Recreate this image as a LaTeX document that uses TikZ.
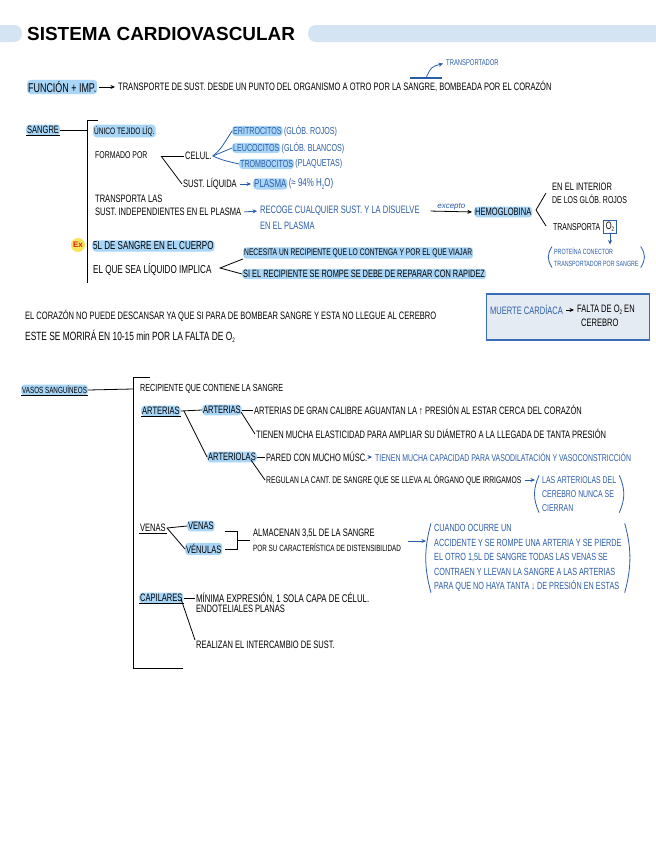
\documentclass[tikz,border=0pt]{standalone}
\usepackage{fontspec}
\setmainfont{Liberation Sans}
\newfontfamily\hand[FakeStretch=0.7]{Liberation Sans}
\usetikzlibrary{arrows.meta}
\definecolor{hlc}{HTML}{A9D5F7}
\definecolor{pillc}{HTML}{D5E4F3}
\definecolor{inkb}{HTML}{2A5CA8}
\definecolor{boxf}{HTML}{E5EBF2}
\definecolor{boxd}{HTML}{3A6DB4}
\definecolor{exy}{HTML}{F7E45A}
\definecolor{exr}{HTML}{D62020}
\newcommand{\sbs}[1]{\raisebox{-0.35ex}{\fontsize{6.5}{6.5}\selectfont #1}}
\newcommand{\hsz}[1]{\hand\fontsize{#1}{#1}\selectfont}
\begin{document}
\begin{tikzpicture}[x=1bp,y=-1bp,
 t/.style={anchor=west,inner sep=1pt,font=\hand\fontsize{10.8}{12}\selectfont,text=black,align=left},
 bl/.style={text=inkb},
 hl/.style={fill=hlc,rounded corners=3.5bp,inner ysep=1.5pt},
 ln/.style={line width=0.8pt,draw=black},
 bln/.style={line width=0.8pt,draw=inkb},
 arr/.style={-{Stealth[length=4.5bp,width=4bp]},line width=0.8pt,shorten >=2bp,shorten <=2bp},
 ul/.style={line width=0.8pt,draw=black},
]
\useasboundingbox (0,0) rectangle (656,848);
\fill[white] (0,0) rectangle (656,848);

% header
\fill[pillc,rounded corners=8bp] (-20,25) rectangle (22,42);
\fill[pillc,rounded corners=8bp] (308,25) rectangle (680,42);
\node[anchor=west,inner sep=0,font=\bfseries\fontsize{19}{20}\selectfont] (title) at (27,33.5) {SISTEMA CARDIOVASCULAR};

% line 1
\node[t,hl,font=\hsz{12.8}] (fun) at (27,87) {FUNCIÓN + IMP.};
\node[t] (transp) at (117,87) {TRANSPORTE DE SUST. DESDE UN PUNTO DEL ORGANISMO A OTRO POR LA SANGRE, BOMBEADA POR EL CORAZÓN};
\draw[arr] (fun) -- (transp);
\node[t,bl,font=\hsz{8.4}] (tpor) at (445,63) {TRANSPORTADOR};
\coordinate (sgA) at (410,78);
\coordinate (sgB) at (442,78);
\coordinate (sgM) at (426,78);
\draw[bln,line width=1.1pt] (sgA) -- (sgB);
\draw[bln,arr,inkb,shorten <=0pt] (sgM) .. controls (431,67) .. (tpor.west);

% sangre block
\node[t,hl] (sangre) at (26,130) {SANGRE};
\draw[ul] (sangre.south west) -- (sangre.south east);
\coordinate (sbt) at (87,120);
\coordinate (sbb) at (87,283);
\coordinate (sbm) at (87,130);
\draw[ln] (98,120) -- (sbt) -- (sbb);
\draw[ln] (sangre.east) -- (sbm);

\node[t,hl,font=\hsz{9.4}] (unico) at (93,131) {ÚNICO TEJIDO LÍQ.};
\node[t,font=\hsz{9.9}] (formado) at (94,155) {FORMADO POR};
\node[t] (celul) at (184,156) {CELUL.};
\node[t] (liq) at (182,184) {SUST. LÍQUIDA};
\coordinate (fj) at (161,156);
\draw[ln] (fj) -- (celul.west);
\draw[ln] (fj) -- (liq.west);

\node[t,bl,hl,font=\hsz{10.2}] (eri) at (232,131) {ERITROCITOS};
\node[t,bl,font=\hsz{10.2}] (eri2) at (eri.east) {(GLÓB. ROJOS)};
\node[t,bl,hl,font=\hsz{10.2}] (leu) at (232,148) {LEUCOCITOS};
\node[t,bl,font=\hsz{10.2}] (leu2) at (leu.east) {(GLÓB. BLANCOS)};
\node[t,bl,hl,font=\hsz{10.2}] (trom) at (239,164) {TROMBOCITOS};
\node[t,bl,font=\hsz{10.2}] (trom2) at (trom.east) {(PLAQUETAS)};
\draw[bln] (celul.east) .. controls (220,150) .. (eri.west);
\draw[bln] (celul.east) -- (leu.west);
\draw[bln] (celul.east) .. controls (222,160) .. (trom.west);

\node[t,bl,hl,font=\hsz{11.4}] (plasma) at (253,184) {PLASMA};
\node[t,bl,font=\hsz{11.4}] (plasma2) at (plasma.east) {(≈ 94\% H\sbs{2}O)};
\draw[arr,inkb] (liq.east) -- (plasma.west);

\node[t] (tr1) at (94,199) {TRANSPORTA LAS};
\node[t] (tr2) at (94,212) {SUST. INDEPENDIENTES EN EL PLASMA};
\node[t,bl] (rc1) at (259,211) {RECOGE CUALQUIER SUST. Y LA DISUELVE};
\node[t,bl] (rc2) at (259,226) {EN EL PLASMA};
\draw[arr,inkb] (tr2.east) -- (rc1.west);
\node[t,hl] (hemo) at (474,212) {HEMOGLOBINA};
\draw[arr] ([xshift=8bp]rc1.east) -- node[above=0pt,inner sep=1pt,font=\itshape\fontsize{8}{9}\selectfont,text=inkb] (exc) {excepto} (hemo.west);
\node[t] (int1) at (551,187) {EN EL INTERIOR};
\node[t,font=\hsz{10}] (int2) at (551,199) {DE LOS GLÓB. ROJOS};
\node[t,font=\hsz{10}] (tra) at (552,227) {TRANSPORTA};
\node[t,draw=inkb,line width=0.9pt,inner sep=2pt,anchor=west] (o2) at ([xshift=2bp]tra.east) {O\sbs{2}};
\coordinate (hk1) at (546,193);
\coordinate (hk0) at (536,210);
\coordinate (hk2) at (546,226);
\draw[ln] (hk1) -- (hk0) -- (hk2);
\node[t,bl,font=\hand\fontsize{7.6}{12}\selectfont] (prot) at (553,257) {PROTEÍNA CONECTOR\\TRANSPORTADOR POR SANGRE};
\draw[arr,inkb,shorten <=0pt] (o2.south) -- (o2.south |- prot.north);
\draw[bln] ([xshift=-1bp]prot.north west) .. controls +(-5,8) and +(-5,-8) .. ([xshift=-1bp]prot.south west);
\draw[bln] ([xshift=1bp]prot.north east) .. controls +(5,8) and +(5,-8) .. ([xshift=1bp]prot.south east);

\node[circle,fill=exy,inner sep=1pt,minimum size=14bp,text=exr,font=\bfseries\fontsize{8}{9}\selectfont] (ex) at (78,245) {Ex};
\node[t,hl,font=\hsz{11.5}] (cinco) at (92,246) {5L DE SANGRE EN EL CUERPO};
\node[t,font=\hsz{11.6}] (liqimp) at (92,270) {EL QUE SEA LÍQUIDO IMPLICA};
\node[t,hl,font=\hsz{9.6}] (nec) at (243,253) {NECESITA UN RECIPIENTE QUE LO CONTENGA Y POR EL QUE VIAJAR};
\node[t,hl,font=\hsz{10.6}] (rom) at (242,274) {SI EL RECIPIENTE SE ROMPE SE DEBE DE REPARAR CON RAPIDEZ};
\coordinate (lv) at (220,268);
\draw[ln] (nec.south west) -- (lv) -- (rom.west);

% corazon paragraph
\node[t] (cor1) at (24,316) {EL CORAZÓN NO PUEDE DESCANSAR YA QUE SI PARA DE BOMBEAR SANGRE Y ESTA NO LLEGUE AL CEREBRO};
\node[t,font=\hsz{12}] (cor2) at (24,336) {ESTE SE MORIRÁ EN 10-15 min POR LA FALTA DE O\sbs{2}};
\node[draw=boxd,fill=boxf,line width=1.1pt,minimum width=163bp,minimum height=46bp,inner sep=0] (mbox) at (568,317) {};
\node[t,bl] (mc) at (489,310) {MUERTE CARDÍACA};
\node[t] (fal) at (576,310) {FALTA DE O\sbs{2} EN};
\node[t] (cer) at (580,323) {CEREBRO};
\draw[arr] (mc.east) -- (fal.west);

% vasos block
\node[t,hl,font=\hsz{9}] (vasos) at (21,390) {VASOS SANGUÍNEOS};
\draw[ul] (vasos.south west) -- (vasos.south east);
\coordinate (vbt) at (133,377);
\coordinate (vbb) at (133,668);
\coordinate (vbm) at (133,389);
\draw[ln] (150,377) -- (vbt) -- (vbb) -- (183,668);
\draw[ln] (vasos.east) -- (vbm);
\node[t,font=\hsz{10.3}] (recip) at (139,389) {RECIPIENTE QUE CONTIENE LA SANGRE};

\node[t,hl] (art) at (141,411) {ARTERIAS};
\draw[ul] (art.south west) -- (art.south east);
\node[t,hl] (art2) at (202,410) {ARTERIAS};
\coordinate (aj) at (184,411);
\draw[ln] (art.east) -- (art2.west);
\node[t,hl] (arl) at (207,457) {ARTERIOLAS};
\draw[ln] (aj) -- (arl.west);
\node[t] (g1) at (253,410) {ARTERIAS DE GRAN CALIBRE AGUANTAN LA ↑ PRESIÓN AL ESTAR CERCA DEL CORAZÓN};
\node[t] (g2) at (255,434) {TIENEN MUCHA ELASTICIDAD PARA AMPLIAR SU DIÁMETRO A LA LLEGADA DE TANTA PRESIÓN};
\coordinate (a2j) at (241,412);
\draw[ln] (art2.east) -- (g1.west);
\draw[ln] (a2j) -- (g2.west);
\node[t] (p1) at (265,457) {PARED CON MUCHO MÚSC.};
\node[t,bl,font=\hsz{9.9}] (p1b) at (374,457) {TIENEN MUCHA CAPACIDAD PARA VASODILATACIÓN Y VASOCONSTRICCIÓN};
\draw[ln] (arl.east) -- (p1.west);
\draw[arr,inkb] (p1.east) -- (p1b.west);
\node[t,font=\hsz{9.7}] (p2) at (265,480) {REGULAN LA CANT. DE SANGRE QUE SE LLEVA AL ÓRGANO QUE IRRIGAMOS};
\coordinate (alj) at (251,460);
\draw[ln] (alj) -- (p2.west);
\node[t,bl,font=\hand\fontsize{9.9}{14}\selectfont] (p2b) at (541,494) {LAS ARTERIOLAS DEL\\CEREBRO NUNCA SE\\CIERRAN};
\draw[bln] ([xshift=-2bp]p2b.north west) .. controls +(-6,14) and +(-6,-14) .. ([xshift=-2bp]p2b.south west);
\draw[bln] ([xshift=2bp]p2b.north east) .. controls +(6,14) and +(6,-14) .. ([xshift=2bp]p2b.south east);
\draw[arr,inkb] (p2.east) -- ([xshift=-4bp]p2.east -| p2b.west);

\node[t] (venas) at (139,528) {VENAS};
\draw[ul] (venas.south west) -- (venas.south east);
\node[t,hl] (ven2) at (187,526) {VENAS};
\node[t,hl] (venu) at (185,549) {VÉNULAS};
\coordinate (vj) at (167,528);
\draw[ln] (venas.east) -- (ven2.west);
\draw[ln] (vj) -- (venu.west);
\draw[ln] (225,531) -- (237,531) -- (237,549) -- (225,549);
\draw[ln] (237,540) -- (250,540);
\node[t] (alm1) at (252,533) {ALMACENAN 3,5L DE LA SANGRE};
\node[t,font=\hsz{9.1}] (alm2) at (252,548) {POR SU CARACTERÍSTICA DE DISTENSIBILIDAD};
\node[t,bl,font=\hand\fontsize{10.4}{14.5}\selectfont] (acc) at (433,558) {CUANDO OCURRE UN\\ACCIDENTE Y SE ROMPE UNA ARTERIA Y SE PIERDE\\EL OTRO 1,5L DE SANGRE TODAS LAS VENAS SE\\CONTRAEN Y LLEVAN LA SANGRE A LAS ARTERIAS\\PARA QUE NO HAYA TANTA ↓ DE PRESIÓN EN ESTAS};
\draw[bln] ([xshift=-2bp]acc.north west) .. controls +(-7,25) and +(-7,-25) .. ([xshift=-2bp]acc.south west);
\draw[bln] ([xshift=2bp]acc.north east) .. controls +(7,25) and +(7,-25) .. ([xshift=2bp]acc.south east);
\coordinate (almR) at (406,541);
\draw[arr,inkb] (almR) -- ([xshift=-5bp]almR -| acc.west);

\node[t,hl] (cap) at (139,598) {CAPILARES};
\draw[ul] (cap.south west) -- (cap.south east);
\node[t,font=\hsz{11.2}] (min1) at (195,598) {MÍNIMA EXPRESIÓN, 1 SOLA CAPA DE CÉLUL.};
\node[t] (min2) at (195,609) {ENDOTELIALES PLANAS};
\node[t] (real) at (195,645) {REALIZAN EL INTERCAMBIO DE SUST.};
\coordinate (cj) at (181,599);
\draw[ln] (cap.east) -- (min1.west);
\draw[ln] (cj) -- (real.north west);
\end{tikzpicture}
\end{document}
